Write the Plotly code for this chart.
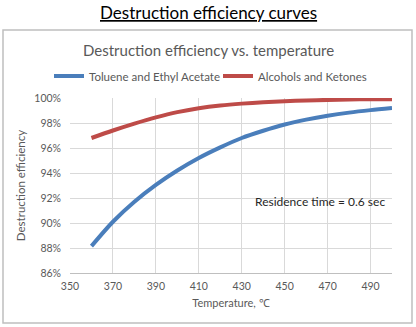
import plotly.graph_objects as go

temps = [360, 370, 380, 390, 400, 410, 420, 430, 440, 450, 460, 470, 480, 490, 500]
toluene = [88.15, 90.1, 91.7, 93.05, 94.2, 95.2, 96.05, 96.8, 97.38, 97.88, 98.27, 98.58, 98.83, 99.03, 99.2]
alcohols = [96.8, 97.4, 97.95, 98.45, 98.87, 99.18, 99.4, 99.55, 99.66, 99.74, 99.8, 99.85, 99.88, 99.9, 99.9]
series_names = ["Toluene and Ethyl Acetate", "Alcohols and Ketones"]
x_ticks = [350, 370, 390, 410, 430, 450, 470, 490]
y_ticks = [86, 88, 90, 92, 94, 96, 98, 100]
y_tick_text = [f"{v}%" for v in y_ticks]

FONT = "Lato"
GRAY = "#595959"

fig = go.Figure()
fig.add_trace(go.Scatter(x=temps, y=toluene, mode="lines", name=series_names[0], legend="legend",
                         line=dict(color="#4A7EBB", width=4, shape="spline", smoothing=0.8)))
fig.add_trace(go.Scatter(x=temps, y=alcohols, mode="lines", name=series_names[1], legend="legend2",
                         line=dict(color="#BE4B48", width=4, shape="spline", smoothing=0.8)))

L, R, T, B = 70, 24, 98, 54
W, H = 416, 327
pw, ph = W - L - R, H - T - B

def px(x):
    return (x - L) / pw

def py(y):
    return (H - B - y) / ph

leg_common = dict(orientation="h", yanchor="middle", xanchor="left",
                  font=dict(size=11.5, color=GRAY, family=FONT), itemwidth=30,
                  bgcolor="rgba(0,0,0,0)")

fig.update_layout(
    width=W, height=H,
    margin=dict(l=L, r=R, t=T, b=B),
    paper_bgcolor="white", plot_bgcolor="white",
    font=dict(family=FONT, color=GRAY),
    showlegend=True,
    legend=dict(x=px(49), y=py(76), **leg_common),
    legend2=dict(x=px(218), y=py(76), **leg_common),
    xaxis=dict(range=[350, 500], tickvals=x_ticks, showgrid=True, gridcolor="#D9D9D9",
               showline=True, linecolor="#BFBFBF", linewidth=1, zeroline=False, ticks="",
               tickfont=dict(size=10.5, color=GRAY), ticklabelstandoff=3,
               title=dict(text="Temperature, ℃", font=dict(size=11, color=GRAY), standoff=8)),
    yaxis=dict(range=[86, 100], tickvals=y_ticks, ticktext=y_tick_text, showgrid=True, gridcolor="#D9D9D9",
               showline=False, zeroline=False, ticks="",
               tickfont=dict(size=10.5, color=GRAY), ticklabelstandoff=8,
               title=dict(text="Destruction efficiency", font=dict(size=11.5, color=GRAY), standoff=6)),
    shapes=[dict(type="rect", xref="paper", yref="paper", x0=px(3), x1=px(412), y0=py(323), y1=py(30),
                 line=dict(color="#BFBFBF", width=1.5), fillcolor="rgba(0,0,0,0)", layer="below")],
    annotations=[
        dict(text="<u>Destruction efficiency curves</u>", xref="paper", yref="paper",
             x=px(208), y=py(12), xanchor="center", yanchor="middle", showarrow=False,
             font=dict(size=17, color="black", family=FONT)),
        dict(text="Destruction efficiency vs. temperature", xref="paper", yref="paper",
             x=px(208), y=py(50), xanchor="center", yanchor="middle", showarrow=False,
             font=dict(size=15, color=GRAY, family=FONT)),
        dict(text="Residence time = 0.6 sec", xref="paper", yref="paper",
             x=px(320), y=py(201), xanchor="center", yanchor="middle", showarrow=False,
             font=dict(size=12, color="#262626", family=FONT)),
    ],
)

fig.write_html("out.html")
